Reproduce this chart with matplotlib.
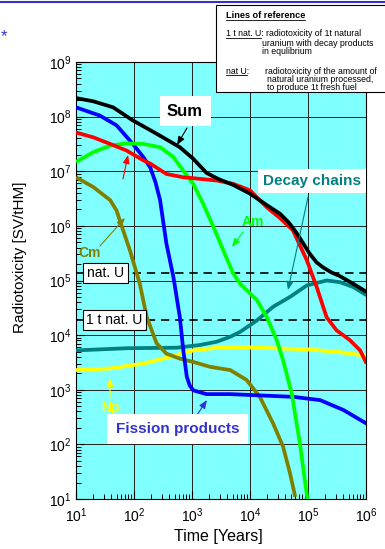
import numpy as np
import matplotlib
matplotlib.use('Agg')
import matplotlib.pyplot as plt
from matplotlib.ticker import LogLocator, NullFormatter, LogFormatterMathtext
from matplotlib.lines import Line2D
from matplotlib.patches import Rectangle

plt.rcParams['font.family'] = ['Liberation Sans', 'DejaVu Sans']
plt.rcParams['mathtext.fontset'] = 'custom'
plt.rcParams['mathtext.rm'] = 'Liberation Sans'
plt.rcParams['mathtext.it'] = 'Liberation Sans:italic'
plt.rcParams['mathtext.bf'] = 'Liberation Sans:bold'

# ---- data: log10(time [years]) and log10(radiotoxicity [Sv/tHM]) ----
sum_lt = [1.00, 1.30, 1.64, 1.98, 2.20, 2.45, 2.79, 3.02, 3.25, 3.45, 3.71, 4.00, 4.29, 4.52, 4.67, 4.81, 5.03, 5.15, 5.26, 5.40, 5.55, 5.78, 6.01]
sum_lv = [8.34, 8.28, 8.17, 7.93, 7.80, 7.65, 7.44, 7.23, 6.97, 6.86, 6.75, 6.59, 6.38, 6.22, 6.06, 5.86, 5.49, 5.33, 5.24, 5.15, 5.08, 4.94, 4.79]

pu_lt = [1.00, 1.30, 1.59, 1.87, 2.16, 2.28, 2.56, 2.85, 3.14, 3.43, 3.71, 4.00, 4.29, 4.52, 4.74, 4.98, 5.15, 5.32, 5.49, 5.72, 5.90, 6.01]
pu_lv = [7.71, 7.62, 7.50, 7.38, 7.20, 7.14, 6.95, 6.89, 6.86, 6.83, 6.77, 6.65, 6.34, 6.14, 5.92, 5.37, 4.88, 4.33, 4.09, 3.91, 3.72, 3.48]

fp_lt = [1.00, 1.41, 1.70, 1.98, 2.16, 2.28, 2.37, 2.45, 2.50, 2.56, 2.68, 2.79, 2.85, 2.91, 2.96, 3.02, 3.25, 3.66, 4.75, 5.21, 5.61, 6.01]
fp_lv = [8.17, 8.02, 7.84, 7.50, 7.26, 7.07, 6.80, 6.47, 6.10, 5.67, 5.06, 4.33, 3.72, 3.24, 3.08, 2.99, 2.92, 2.92, 2.87, 2.81, 2.63, 2.38]

am_lt = [1.00, 1.30, 1.59, 1.87, 2.16, 2.45, 2.67, 2.85, 3.02, 3.19, 3.37, 3.54, 3.71, 3.83, 4.12, 4.29, 4.46, 4.57, 4.72, 4.86, 4.99]
am_lv = [7.17, 7.35, 7.47, 7.51, 7.50, 7.44, 7.27, 7.01, 6.77, 6.41, 5.98, 5.55, 5.13, 4.94, 4.64, 4.33, 3.91, 3.54, 2.93, 2.02, 1.00]

cm_lt = [1.00, 1.30, 1.59, 1.70, 1.79, 1.93, 2.10, 2.22, 2.39, 2.56, 2.79, 3.02, 3.31, 3.66, 3.94, 4.17, 4.40, 4.57, 4.69, 4.78]
cm_lv = [6.89, 6.71, 6.47, 6.28, 5.99, 5.55, 4.94, 4.33, 3.85, 3.66, 3.57, 3.51, 3.42, 3.36, 3.18, 2.87, 2.38, 1.96, 1.47, 1.04]

dc_lt = [1.00, 1.87, 2.74, 3.14, 3.43, 3.66, 3.83, 4.12, 4.40, 4.69, 4.98, 5.32, 5.55, 5.78, 6.01]
dc_lv = [3.72, 3.76, 3.77, 3.82, 3.88, 3.97, 4.06, 4.27, 4.52, 4.70, 4.91, 5.00, 4.97, 4.88, 4.73]

np_lt = [1.00, 1.59, 2.16, 2.62, 3.02, 3.43, 3.83, 4.98, 5.55, 6.01]
np_lv = [3.36, 3.39, 3.48, 3.60, 3.72, 3.77, 3.78, 3.74, 3.69, 3.62]

nat_u = 1.4e5
one_t_nat_u = 1.93e4

xticks = [1e1, 1e2, 1e3, 1e4, 1e5, 1e6]
yticks = [1e1, 1e2, 1e3, 1e4, 1e5, 1e6, 1e7, 1e8, 1e9]

W, H = 385, 549
fig = plt.figure(figsize=(W / 100, H / 100), dpi=100)
ax = fig.add_axes([76 / W, 1 - 499 / H, 290 / W, 437 / H])
ax.set_facecolor('#80FFFF')
ax.set_xscale('log')
ax.set_yscale('log')
ax.set_xlim(1e1, 1e6)
ax.set_ylim(1e1, 1e9)
ax.set_xticks(xticks)
ax.set_yticks(yticks)
ax.xaxis.set_major_formatter(LogFormatterMathtext())
ax.yaxis.set_major_formatter(LogFormatterMathtext())
ax.xaxis.set_minor_locator(LogLocator(base=10, subs=np.arange(2, 10)))
ax.yaxis.set_minor_locator(LogLocator(base=10, subs=np.arange(2, 10)))
ax.xaxis.set_minor_formatter(NullFormatter())
ax.yaxis.set_minor_formatter(NullFormatter())
ax.tick_params(which='both', direction='in', labelsize=10, color='black')
ax.tick_params(which='major', length=6, width=0.8)
ax.tick_params(which='minor', length=3.5, width=0.7)
ax.tick_params(axis='x', pad=5)
ax.tick_params(axis='y', pad=3)
ax.grid(True, which='major', color='#222222', lw=0.7)
for s in ax.spines.values():
    s.set_linewidth(0.8)

ax.axhline(nat_u, color='black', lw=1.2, ls=(0, (5, 3.5)), zorder=2.5)
ax.axhline(one_t_nat_u, color='black', lw=1.2, ls=(0, (5, 3.5)), zorder=2.5)

def P(lt, lv):
    return np.power(10.0, lt), np.power(10.0, lv)

lw = 2.7
kw = dict(lw=lw, solid_capstyle='butt', solid_joinstyle='round')
ax.plot(*P(np_lt, np_lv), color='#FFFF00', zorder=3, **kw)
ax.plot(*P(dc_lt, dc_lv), color='#008080', zorder=3.1, **kw)
ax.plot(*P(cm_lt, cm_lv), color='#808000', zorder=3.2, **kw)
ax.plot(*P(fp_lt, fp_lv), color='#0000FF', zorder=3.3, **kw)
ax.plot(*P(am_lt, am_lv), color='#00FF00', zorder=3.4, **kw)
ax.plot(*P(pu_lt, pu_lv), color='#FF0000', zorder=3.5, **kw)
ax.plot(*P(sum_lt, sum_lv), color='black', zorder=3.6, **kw)

def fx(px):
    return (px - 76) / 290.0

def fy(py):
    return (499 - py) / 437.0

def arrow(tail, head, color, lw=0.8):
    ax.annotate('', xy=(fx(head[0]), fy(head[1])), xycoords='axes fraction',
                xytext=(fx(tail[0]), fy(tail[1])), textcoords='axes fraction',
                arrowprops=dict(arrowstyle='-|>,head_length=0.5,head_width=0.2',
                                color=color, lw=lw, shrinkA=0, shrinkB=0), zorder=6)

def label(px, py, s, **k):
    ax.text(fx(px), fy(py), s, transform=ax.transAxes, ha='center', va='center', zorder=7, **k)

# Sum
label(185, 111, 'Sum', fontsize=12, fontweight='bold',
      bbox=dict(boxstyle='square,pad=0.45', fc='white', ec='none'))
arrow((187, 128), (177, 145), 'black')
# red arrow
arrow((123, 179), (128, 155), '#FF0000')
# Decay chains
label(312, 181, 'Decay chains', fontsize=11, fontweight='bold', color='#008080',
      bbox=dict(boxstyle='square,pad=0.35', fc='white', ec='none'))
arrow((308, 197), (288, 290), '#008080')
# Am
label(253, 222, 'Am', fontsize=10, fontweight='bold', color='#00FF00')
arrow((243, 232), (232, 247), '#00FF00')
# Cm
label(90, 253, 'Cm', fontsize=10, fontweight='bold', color='#808000')
arrow((100, 246), (125, 218), '#808000')
# nat U boxes
label(105.5, 273, 'nat. U', fontsize=10,
      bbox=dict(boxstyle='square,pad=0.25', fc='white', ec='black', lw=0.8))
label(114.5, 320, '1 t nat. U', fontsize=10,
      bbox=dict(boxstyle='square,pad=0.25', fc='white', ec='black', lw=0.8))
# Np
label(110, 408, 'Np', fontsize=10, fontweight='bold', color='#FFFF00')
arrow((110, 398), (110, 378), '#FFFF00')
# Fission products
label(177.5, 429, 'Fission products', fontsize=11, fontweight='bold', color='#3333CC',
      bbox=dict(boxstyle='square,pad=0.55', fc='white', ec='none'))
arrow((197, 415), (207, 400), '#3333CC')

# axis labels
fig.text(20 / W, 1 - 257 / H, 'Radiotoxicity [SV/tHM]', rotation=90, fontsize=11, ha='center', va='center')
fig.text(218 / W, 1 - 537 / H, 'Time [Years]', fontsize=11.5, ha='center', va='center')

# decoration: header line and asterisk
fig.add_artist(Line2D([0, 1], [1 - 1.5 / H, 1 - 1.5 / H], transform=fig.transFigure, color='#3333CC', lw=1.5))
fig.text(4 / W, 1 - 37 / H, '*', fontsize=12, color='#3333CC', ha='center', va='center')

# reference-lines box
fig.add_artist(Rectangle((216 / W, 1 - 92 / H), 175 / W, 87 / H, transform=fig.transFigure,
                         fc='white', ec='black', lw=0.8, zorder=10, clip_on=False))
fs = 6.3
t0 = fig.text(226 / W, 1 - 16 / H, 'Lines of reference', fontsize=fs + 0.3, fontweight='bold', va='center', zorder=11)
t1 = fig.text(226 / W, 1 - 34 / H, '1 t nat. U:', fontsize=fs, va='center', zorder=11)
fig.text(266 / W, 1 - 34 / H, 'radiotoxicity of 1t natural', fontsize=fs, va='center', zorder=11)
fig.text(262 / W, 1 - 43 / H, 'uranium with decay products', fontsize=fs, va='center', zorder=11)
fig.text(262 / W, 1 - 52 / H, 'in equlibrium', fontsize=fs, va='center', zorder=11)
t2 = fig.text(226 / W, 1 - 71 / H, 'nat U:', fontsize=fs, va='center', zorder=11)
fig.text(265 / W, 1 - 71 / H, 'radiotoxicity of the amount of', fontsize=fs, va='center', zorder=11)
fig.text(267 / W, 1 - 79.5 / H, 'natural uranium processed,', fontsize=fs, va='center', zorder=11)
fig.text(267 / W, 1 - 88 / H, 'to produce 1t fresh fuel', fontsize=fs, va='center', zorder=11)

fig.canvas.draw()
r = fig.canvas.get_renderer()

def underline(t, part):
    tmp = fig.text(0, 0, part, fontsize=t.get_fontsize(), fontweight=t.get_fontweight())
    w = tmp.get_window_extent(r).width
    tmp.remove()
    bb = t.get_window_extent(r)
    yline = (bb.y0 + 1.0) / fig.bbox.height
    fig.add_artist(Line2D([bb.x0 / fig.bbox.width, (bb.x0 + w) / fig.bbox.width], [yline, yline],
                          transform=fig.transFigure, color='black', lw=0.6, zorder=12))

underline(t0, 'Lines of reference')
underline(t1, '1 t nat. U')
underline(t2, 'nat U')

fig.savefig('out.png', dpi=100)
